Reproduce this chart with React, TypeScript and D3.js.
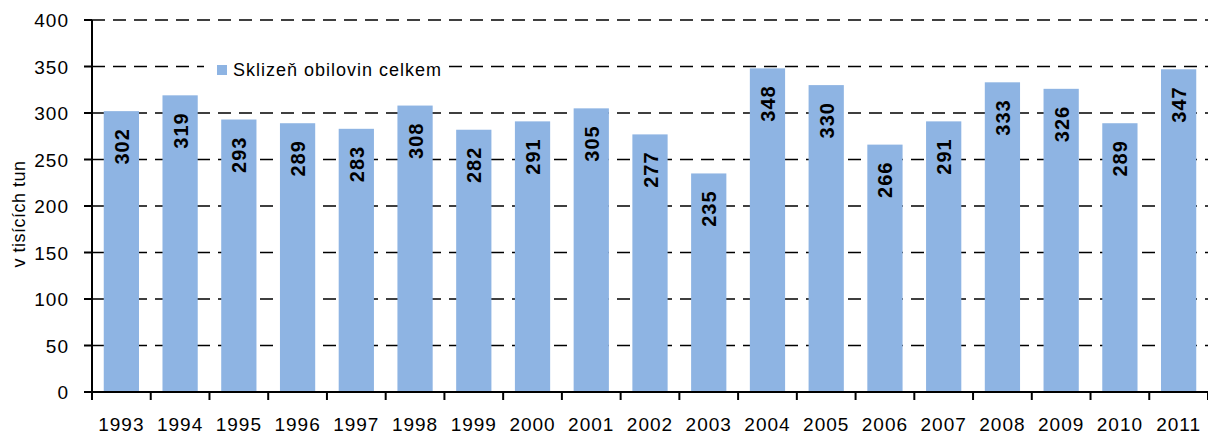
import React, { useEffect, useRef } from 'react'
import * as d3 from 'd3'

const years = ['1993', '1994', '1995', '1996', '1997', '1998', '1999', '2000', '2001', '2002',
  '2003', '2004', '2005', '2006', '2007', '2008', '2009', '2010', '2011']
const harvest = [302, 319, 293, 289, 283, 308, 282, 291, 305, 277, 235, 348, 330, 266, 291, 333, 326, 289, 347]
const yTicks = [0, 50, 100, 150, 200, 250, 300, 350, 400]
const seriesName = 'Sklizeň obilovin celkem'
const yTitle = 'v tisících tun'

export default function App() {
  const ref = useRef<SVGSVGElement>(null)

  useEffect(() => {
    const svg = d3.select(ref.current)
    svg.selectAll('*').remove()

    const left = 92, right = 1208, top = 20, bottom = 392
    const font = '"Liberation Sans", Arial, sans-serif'

    const x = d3.scaleBand().domain(years).range([left, right]).paddingInner(0.4).paddingOuter(0.2)
    const y = d3.scaleLinear().domain([0, 400]).range([bottom, top])

    // gridlines
    svg.append('g').selectAll('line')
      .data(yTicks.filter(t => t > 0))
      .enter().append('line')
      .attr('x1', left).attr('x2', right)
      .attr('y1', d => y(d)).attr('y2', d => y(d))
      .attr('stroke', '#000').attr('stroke-width', 1.5)
      .attr('stroke-dasharray', '13,8')

    // bars
    svg.append('g').selectAll('rect')
      .data(harvest)
      .enter().append('rect')
      .attr('x', (d, i) => x(years[i])!)
      .attr('width', x.bandwidth())
      .attr('y', d => y(d))
      .attr('height', d => bottom - y(d))
      .attr('fill', '#8EB4E3')

    // value labels
    svg.append('g').selectAll('text')
      .data(harvest)
      .enter().append('text')
      .attr('transform', (d, i) => 'translate(' + (x(years[i])! + x.bandwidth() / 2 + 7.5) + ',' + (y(d) + 17) + ') rotate(-90)')
      .attr('text-anchor', 'end')
      .attr('font-family', font)
      .attr('font-size', 20)
      .attr('font-weight', 'bold')
      .attr('letter-spacing', 1)
      .text(d => d)

    // y axis
    svg.append('line')
      .attr('x1', left).attr('x2', left).attr('y1', top).attr('y2', bottom)
      .attr('stroke', '#000').attr('stroke-width', 2)
    const yg = svg.append('g')
    yg.selectAll('line').data(yTicks).enter().append('line')
      .attr('x1', left - 8).attr('x2', left)
      .attr('y1', d => y(d)).attr('y2', d => y(d))
      .attr('stroke', '#000').attr('stroke-width', 2)
    yg.selectAll('text').data(yTicks).enter().append('text')
      .attr('x', 69).attr('y', d => y(d) + 7)
      .attr('text-anchor', 'end')
      .attr('font-family', font).attr('font-size', 19)
      .attr('letter-spacing', 1)
      .text(d => d)

    // x axis
    svg.append('line')
      .attr('x1', left - 8).attr('x2', right).attr('y1', bottom).attr('y2', bottom)
      .attr('stroke', '#000').attr('stroke-width', 2)
    const step = x.step()
    const xg = svg.append('g')
    xg.selectAll('line').data(d3.range(years.length + 1)).enter().append('line')
      .attr('x1', i => left + i * step).attr('x2', i => left + i * step)
      .attr('y1', bottom).attr('y2', bottom + 8)
      .attr('stroke', '#000').attr('stroke-width', 2)
    xg.selectAll('text').data(years).enter().append('text')
      .attr('x', d => x(d)! + x.bandwidth() / 2)
      .attr('y', 431)
      .attr('text-anchor', 'middle')
      .attr('font-family', font).attr('font-size', 19)
      .attr('letter-spacing', 1)
      .text(d => d)

    // y title
    svg.append('text')
      .attr('transform', 'translate(25,214) rotate(-90)')
      .attr('text-anchor', 'middle')
      .attr('font-family', font).attr('font-size', 18)
      .attr('letter-spacing', 0.5)
      .text(yTitle)

    // legend
    const lg = svg.append('g')
    lg.append('rect').attr('x', 204).attr('y', 56).attr('width', 240).attr('height', 22).attr('fill', '#fff')
    lg.append('rect').attr('x', 217).attr('y', 65).attr('width', 10).attr('height', 10).attr('fill', '#8EB4E3')
    lg.append('text').attr('x', 233).attr('y', 76)
      .attr('font-family', font).attr('font-size', 18)
      .attr('letter-spacing', 1)
      .text(seriesName)
  }, [])

  return (
    <svg ref={ref} width={1208} height={436}
      style={{ position: 'absolute', left: 0, top: 0, background: '#fff' }} />
  )
}
